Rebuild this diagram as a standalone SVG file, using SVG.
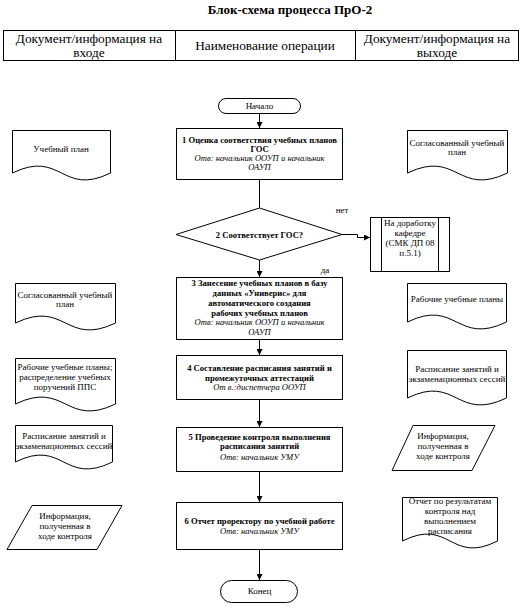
<svg xmlns="http://www.w3.org/2000/svg" width="522" height="609" viewBox="0 0 522 609">
<style>
text{font-family:"Liberation Serif","Times New Roman","DejaVu Serif",serif;fill:#000;text-anchor:middle}
.title{font-size:13px;font-weight:bold}
.hdr{font-size:13.3px}
.b{font-size:8.6px;font-weight:bold}
.i{font-size:8.6px;font-style:italic}
.d{font-size:9px}
.s{fill:#fff;stroke:#000;stroke-width:1}
.ln{fill:none;stroke:#000;stroke-width:1}
</style>
<defs>
<marker id="ar" viewBox="0 0 10 10" refX="10" refY="5" markerWidth="6" markerHeight="6" orient="auto" markerUnits="userSpaceOnUse">
<path d="M0,0 L10,5 L0,10 z" fill="#000"/>
</marker>
</defs>
<rect width="522" height="609" fill="#fff"/>
<text class="title" x="290" y="14">Блок-схема процесса ПрО-2</text>
<g id="header">
<rect class="ln" x="3.5" y="30.5" width="515" height="30"/>
<line class="ln" x1="175.5" y1="30.5" x2="175.5" y2="60.5"/>
<line class="ln" x1="355.5" y1="30.5" x2="355.5" y2="60.5"/>
<text class="hdr" x="89" y="43">Документ/информация на</text>
<text class="hdr" x="89" y="57">входе</text>
<text class="hdr" x="265" y="50">Наименование операции</text>
<text class="hdr" x="437" y="43">Документ/информация на</text>
<text class="hdr" x="437" y="57">выходе</text>
</g>
<g id="connectors">
<line class="ln" x1="259.5" y1="113" x2="259.5" y2="128" marker-end="url(#ar)"/>
<line class="ln" x1="259.5" y1="180" x2="259.5" y2="208"/>
<polyline class="ln" points="342,234.5 357.5,234.5 357.5,237.5 370,237.5" marker-end="url(#ar)"/>
<line class="ln" x1="259.5" y1="260" x2="259.5" y2="277" marker-end="url(#ar)"/>
<line class="ln" x1="259.5" y1="340" x2="259.5" y2="355" marker-end="url(#ar)"/>
<line class="ln" x1="259.5" y1="400" x2="259.5" y2="427" marker-end="url(#ar)"/>
<line class="ln" x1="259.5" y1="472" x2="259.5" y2="502" marker-end="url(#ar)"/>
<line class="ln" x1="259.5" y1="550" x2="259.5" y2="580" marker-end="url(#ar)"/>
<text class="d" x="342" y="213">нет</text>
<text class="d" x="325" y="273">да</text>
</g>
<g id="start">
<rect class="s" x="218.5" y="98.5" width="82" height="15" rx="7.5"/>
<text class="d" x="259.5" y="109">Начало</text>
</g>
<g id="op1">
<rect class="s" x="176.5" y="128.5" width="166" height="51"/>
<text class="b" x="259.5" y="143">1 Оценка соответствия учебных планов</text>
<text class="b" x="259.5" y="152">ГОС</text>
<text class="i" x="259.5" y="161">Отв: начальник ООУП и начальник</text>
<text class="i" x="259.5" y="170">ОАУП</text>
</g>
<g id="dec2">
<polygon class="s" points="259.5,208 342,234.5 259.5,260 176,234.5"/>
<text class="b" x="259.5" y="237.5">2 Соответствует ГОС?</text>
</g>
<g id="rework">
<rect class="s" x="370.5" y="217.5" width="79" height="54"/>
<line class="ln" x1="381.5" y1="217.5" x2="381.5" y2="271.5"/>
<line class="ln" x1="438.5" y1="217.5" x2="438.5" y2="271.5"/>
<text class="d" x="410" y="226">На доработку</text>
<text class="d" x="410" y="236">кафедре</text>
<text class="d" x="410" y="246">(СМК ДП 08</text>
<text class="d" x="410" y="256">п.5.1)</text>
</g>
<g id="op3">
<rect class="s" x="176.5" y="277.5" width="166" height="62"/>
<text class="b" x="259.5" y="286">3 Занесение учебных планов в базу</text>
<text class="b" x="259.5" y="296">данных «Универис» для</text>
<text class="b" x="259.5" y="306">автоматического создания</text>
<text class="b" x="259.5" y="316">рабочих учебных планов</text>
<text class="i" x="259.5" y="325">Отв: начальник ООУП и начальник</text>
<text class="i" x="259.5" y="335">ОАУП</text>
</g>
<g id="op4">
<rect class="s" x="176.5" y="355.5" width="166" height="44"/>
<text class="b" x="259.5" y="371">4 Составление расписания занятий и</text>
<text class="b" x="259.5" y="381">промежуточных аттестаций</text>
<text class="i" x="259.5" y="390">От в.:диспетчера ООУП</text>
</g>
<g id="op5">
<rect class="s" x="176.5" y="427.5" width="166" height="44"/>
<text class="b" x="259.5" y="440">5 Проведение контроля выполнения</text>
<text class="b" x="259.5" y="449">расписания занятий</text>
<text class="i" x="259.5" y="460">Отв: начальник УМУ</text>
</g>
<g id="op6">
<rect class="s" x="176.5" y="502.5" width="166" height="47"/>
<text class="b" x="259.5" y="524">6 Отчет проректору по учебной работе</text>
<text class="i" x="259.5" y="534">Отв: начальник УМУ</text>
</g>
<g id="end">
<rect class="s" x="220.5" y="580.5" width="77" height="22" rx="11"/>
<text class="d" x="259.5" y="594">Конец</text>
</g>
<g id="in1">
<path class="s" d="M12.5,130.5 H110.5 V173 C61.5,197 61.5,149 12.5,173 Z"/>
<text class="d" x="61" y="152">Учебный план</text>
</g>
<g id="in2">
<path class="s" d="M15.5,283.5 H115.5 V323 C65.5,347 65.5,299 15.5,323 Z"/>
<text class="d" x="65" y="298">Согласованный учебный</text>
<text class="d" x="65" y="307">план</text>
</g>
<g id="in3">
<path class="s" d="M15.5,358.5 H115.5 V404 C65.5,428 65.5,380 15.5,404 Z"/>
<text class="d" x="65" y="370">Рабочие учебные планы;</text>
<text class="d" x="65" y="380">распределение учебных</text>
<text class="d" x="65" y="390">поручений ППС</text>
</g>
<g id="in4">
<path class="s" d="M15.5,425.5 H112.5 V462 C63.5,486 63.5,438 15.5,462 Z"/>
<text class="d" x="64" y="439">Расписание занятий и</text>
<text class="d" x="64" y="449">экзаменационных сессий</text>
</g>
<g id="in5">
<polygon class="s" points="32,505.5 122,505.5 97,549.5 7,549.5"/>
<text class="d" x="65" y="519">Информация,</text>
<text class="d" x="65" y="529">полученная в</text>
<text class="d" x="65" y="539">ходе контроля</text>
</g>
<g id="out1">
<path class="s" d="M407.5,130.5 H507.5 V173 C457.5,197 457.5,149 407.5,173 Z"/>
<text class="d" x="457" y="146">Согласованный учебный</text>
<text class="d" x="457" y="155">план</text>
</g>
<g id="out2">
<path class="s" d="M407.5,283.5 H506.5 V322 C456.5,346 456.5,298 407.5,322 Z"/>
<text class="d" x="457" y="302">Рабочие учебные планы</text>
</g>
<g id="out3">
<path class="s" d="M407.5,350.5 H506.5 V398 C456.5,422 456.5,374 407.5,398 Z"/>
<text class="d" x="457" y="372">Расписание занятий и</text>
<text class="d" x="457" y="382">экзаменационных сессий</text>
</g>
<g id="out4">
<polygon class="s" points="413,425.5 495,425.5 472,470.5 392,470.5"/>
<text class="d" x="443" y="439">Информация,</text>
<text class="d" x="443" y="449">полученная в</text>
<text class="d" x="443" y="459">ходе контроля</text>
</g>
<g id="out5">
<path class="s" d="M402.5,497.5 H497.5 V541 C450,565 450,517 402.5,541 Z"/>
<text class="d" x="450" y="504">Отчет по результатам</text>
<text class="d" x="450" y="514">контроля над</text>
<text class="d" x="450" y="524">выполнением</text>
<text class="d" x="450" y="534">расписания</text>
</g>
</svg>
